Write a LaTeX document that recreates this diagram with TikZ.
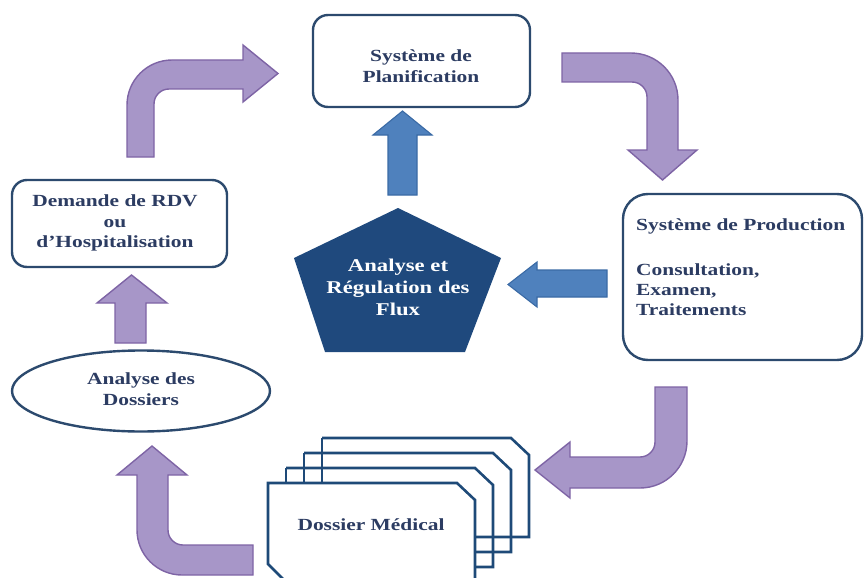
\documentclass[tikz,border=0pt]{standalone}
\usepackage{fontspec}
\setmainfont{Liberation Serif}[FakeStretch=1.26]
\usetikzlibrary{shapes.geometric}
\definecolor{txtblue}{RGB}{44,60,98}
\definecolor{boxblue}{RGB}{44,74,110}
\definecolor{docblue}{RGB}{30,74,120}
\definecolor{purplefill}{RGB}{167,150,200}
\definecolor{purpleline}{RGB}{126,100,165}
\definecolor{bluefill}{RGB}{79,129,189}
\definecolor{blueline}{RGB}{58,106,165}
\definecolor{pentfill}{RGB}{31,73,125}
\begin{document}
\begin{tikzpicture}[x=1pt,y=-1pt,
  txt/.style={text=txtblue, font=\fontsize{17}{20.5}\selectfont\bfseries, align=center, inner sep=0pt},
  box/.style={draw=boxblue, line width=2.4pt, fill=white, rounded corners=15pt, inner sep=0pt},
  parrow/.style={fill=purplefill, draw=purpleline, line width=1.4pt, line join=miter},
  barrow/.style={fill=bluefill, draw=blueline, line width=1.1pt},
  doc/.style={draw=docblue, line width=2.6pt, line join=miter}]
\useasboundingbox (0,0) rectangle (865,578);

% ---------- boxes ----------
\node[box, minimum width=217pt, minimum height=92pt] (plan) at (421.5,61) {};
\node[txt] (plantxt) at (421,66) {Système de\\Planification};

\node[box, minimum width=215pt, minimum height=87pt] (dem) at (119.5,223.5) {};
\node[txt] (demtxt) at (115,223) {Demande de RDV\\ou\\d’Hospitalisation};

\node[box, rounded corners=25pt, minimum width=239pt, minimum height=166pt] (prod) at (742.5,277) {};
\node[txt, anchor=base west] (prodtitle) at (636,230.5) {Système de Production};
\node[txt, anchor=base west] (cons) at (636,275) {Consultation,};
\node[txt, anchor=base west] (exam) at (636,295) {Examen,};
\node[txt, anchor=base west] (trait) at (636,315) {Traitements};

\node[draw=boxblue, line width=2.4pt, fill=white, ellipse, minimum width=258pt, minimum height=81pt, inner sep=0pt] (ana) at (141,391) {};
\node[txt] (anatxt) at (141,389) {Analyse des\\Dossiers};

% ---------- pentagon ----------
\fill[pentfill] (398,208) -- (501,258) -- (465,352) -- (325,352) -- (294,258) -- cycle;
\node[txt, text=white, font=\fontsize{18}{22}\selectfont\bfseries] (reg) at (398,287) {Analyse et\\Régulation des\\Flux};

% ---------- blue arrows ----------
\draw[barrow] (388,195) -- (388,135) -- (373,135) -- (402.5,111) -- (432,135) -- (417,135) -- (417,195) -- cycle;
\draw[barrow] (607,270) -- (537,270) -- (537,262) -- (508,284.5) -- (537,307) -- (537,297) -- (607,297) -- cycle;

% ---------- purple arrows ----------
% top-left: up then right
\draw[parrow] (127,157) -- (127,105) .. controls (127,80.2) and (147.2,60) .. (172,60)
  -- (243,60) -- (243,45) -- (278,73.5) -- (243,102) -- (243,89) -- (169,89)
  .. controls (160.7,89) and (154,95.7) .. (154,104) -- (154,157) -- cycle;
% top-right: right then down
\draw[parrow] (562,53) -- (631,53) .. controls (656.9,53) and (678,74.1) .. (678,100)
  -- (678,150) -- (697,150) -- (662.5,180) -- (628,150) -- (647,150) -- (647,97)
  .. controls (647,88.7) and (640.3,82) .. (632,82) -- (562,82) -- cycle;
% bottom-right: down then left
\draw[parrow] (655,387) -- (687,387) -- (687,441) .. controls (687,467) and (666,488) .. (640,488)
  -- (570,488) -- (570,498) -- (535,470) -- (570,442) -- (570,457) -- (640,457)
  .. controls (648.3,457) and (655,450.3) .. (655,442) -- cycle;
% bottom-left: left then up
\draw[parrow] (253,575) -- (182,575) .. controls (157.2,575) and (137,554.8) .. (137,530)
  -- (137,475) -- (117,475) -- (152,446) -- (187,475) -- (168,475) -- (168,530)
  .. controls (168,538.3) and (174.7,545) .. (183,545) -- (253,545) -- cycle;
% small up arrow
\draw[parrow] (115,343) -- (115,303) -- (97,303) -- (131.5,275) -- (167,303) -- (146,303) -- (146,343) -- cycle;

% ---------- dossier stack ----------
\draw[doc] (322,438) -- (511,438) -- (529,455) -- (529,537) -- (475,537);
\draw[doc] (322,438) -- (322,483);
\draw[doc] (304,453) -- (493,453) -- (511,470) -- (511,552) -- (475,552);
\draw[doc] (304,453) -- (304,483);
\draw[doc] (286,468) -- (475,468) -- (493,485) -- (493,567) -- (475,567);
\draw[doc] (286,468) -- (286,483);
\draw[doc, fill=white] (268,483) -- (457,483) -- (475,500) -- (475,582) -- (286,582) -- (268,564) -- cycle;
\node[txt] (dossier) at (371,525) {Dossier Médical};
\end{tikzpicture}
\end{document}
